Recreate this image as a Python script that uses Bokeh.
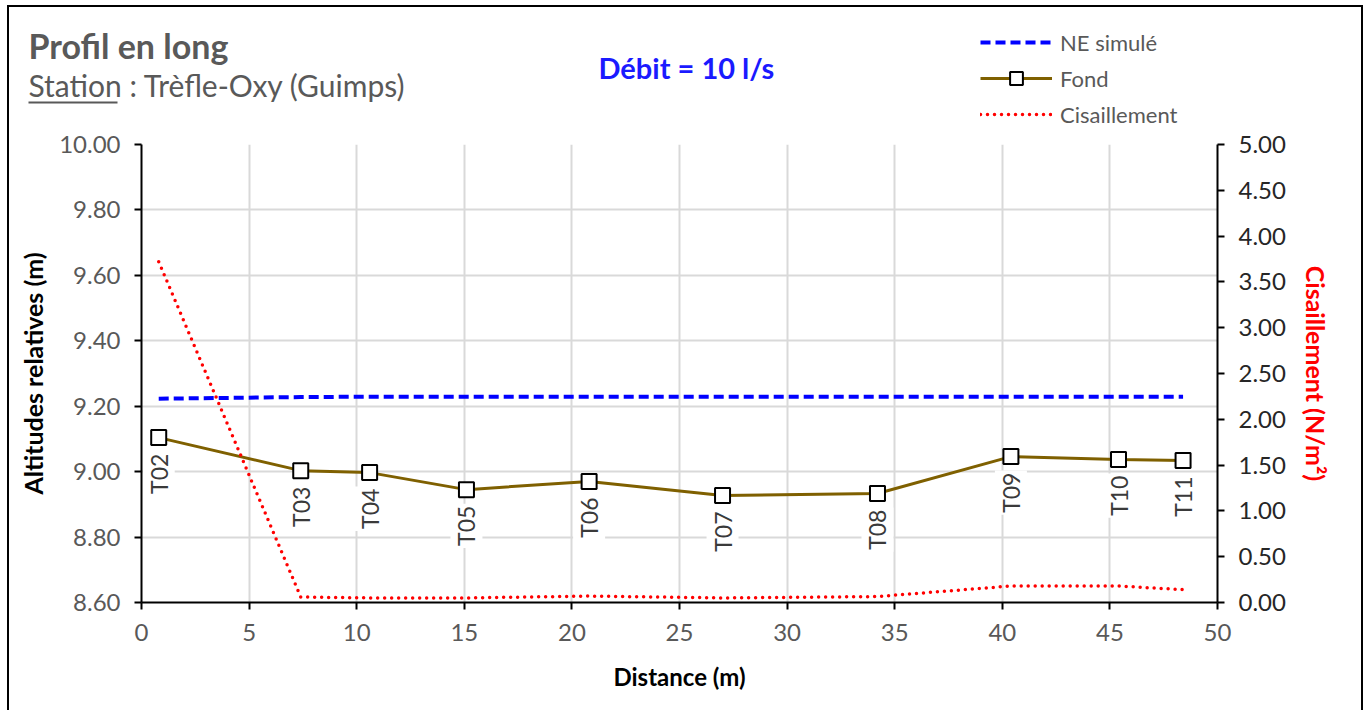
import math
from bokeh.plotting import figure
from bokeh.layouts import column
from bokeh.models import (Range1d, LinearAxis, SingleIntervalTicker, NumeralTickFormatter,
                          Label, Legend, LegendItem, ColumnDataSource)
from bokeh.core.properties import value
from bokeh.embed import file_html
from bokeh.resources import INLINE

# ---- data ----
stations = ["T02", "T03", "T04", "T05", "T06", "T07", "T08", "T09", "T10", "T11"]
distance = [0.8, 7.4, 10.6, 15.1, 20.8, 27.0, 34.2, 40.4, 45.4, 48.4]
fond = [9.104, 9.003, 8.997, 8.945, 8.970, 8.927, 8.933, 9.046, 9.037, 9.034]
ne_simule = [9.223, 9.228, 9.229, 9.229, 9.229, 9.229, 9.229, 9.229, 9.229, 9.229]
cisaillement = [3.72, 0.06, 0.05, 0.05, 0.07, 0.05, 0.065, 0.18, 0.18, 0.14]
x_ticks_interval = 5
y_ticks_interval = 0.2
y2_ticks_interval = 0.5

FONT = "Lato"
GRAY = "#595959"

# overall geometry (screen pixels of the page)
OX, OY = 9, 7            # inside of the outer border
IW = 1352                # inner width
HEAD_BOTTOM = 129
HEAD_H = HEAD_BOTTOM - OY
MAIN_H = 710 - HEAD_BOTTOM
FRAME_L, FRAME_R, FRAME_T, FRAME_B = 141, 1217, 144, 602
BASE_FIX = 12            # label baseline correction

# ---------------- header (titles + legend) ----------------
head = figure(width=IW, height=HEAD_H, output_backend="svg", toolbar_location=None,
              x_range=Range1d(OX, OX + IW), y_range=Range1d(HEAD_BOTTOM, OY),
              min_border=0, x_axis_location=None, y_axis_location=None, frame_align=False)
head.grid.visible = False
head.outline_line_color = None
head.background_fill_color = "white"
head.border_fill_color = "white"

head.add_layout(Label(x=28, y=57 - BASE_FIX, text="Profil en long", text_font=FONT,
                      text_font_style="bold", text_font_size="34px",
                      text_color=GRAY, text_baseline="alphabetic"))
head.add_layout(Label(x=28, y=96 - BASE_FIX, text="Station : Trèfle-Oxy (Guimps)", text_font=FONT,
                      text_font_size="30px", text_color=GRAY, text_baseline="alphabetic"))
head.segment(x0=[28], y0=[102], x1=[117], y1=[102], line_color=GRAY, line_width=2)
head.add_layout(Label(x=598, y=79 - BASE_FIX, text="Débit = 10 l/s", text_font=FONT,
                      text_font_style="bold", text_font_size="29px",
                      text_color="#1a1aff", text_baseline="alphabetic"))

# legend proxies (drawn outside the visible range, only their legend glyphs show)
px, py = [-1000, -999], [-1000, -1000]
h_ne = head.line(px, py, line_color="#0000ff", line_width=4, line_dash="10 5")
h_fl = head.line(px, py, line_color="#7f6000", line_width=3)
h_fp = head.scatter(px, py, marker="square", size=15, fill_color="white",
                    line_color="black", line_width=2)
h_sh = head.line(px, py, line_color="#ff0000", line_width=3.5, line_dash="0 7", line_cap="round")
legend = Legend(items=[
    LegendItem(label="NE simulé", renderers=[h_ne]),
    LegendItem(label="Fond", renderers=[h_fl, h_fp]),
    LegendItem(label="Cisaillement", renderers=[h_sh]),
], location=(980 - OX, -1), orientation="vertical", glyph_width=72,
   glyph_height=32, label_height=32, spacing=4, label_standoff=8, padding=0, margin=0,
   border_line_color=None, background_fill_alpha=0,
   label_text_font=FONT, label_text_font_size="22px", label_text_color=GRAY)
head.add_layout(legend, "center")

# ---------------- main chart ----------------
p = figure(width=IW, height=MAIN_H, output_backend="svg", toolbar_location=None,
           x_range=Range1d(0, 50), y_range=Range1d(8.6, 10.0),
           min_border_left=FRAME_L - OX, min_border_right=(OX + IW) - FRAME_R,
           min_border_top=FRAME_T - HEAD_BOTTOM, min_border_bottom=710 - FRAME_B,
           x_axis_location=None, y_axis_location=None, frame_align=False)
p.outline_line_color = None
p.background_fill_color = "white"
p.border_fill_color = "white"
p.extra_y_ranges = {"shear": Range1d(0, 5)}

def style_axis(ax, label_color="black"):
    ax.axis_line_color = "black"
    ax.axis_line_width = 2
    ax.major_tick_line_color = "black"
    ax.major_tick_line_width = 2
    ax.major_tick_out = 7
    ax.major_tick_in = 0
    ax.minor_tick_line_color = None
    ax.major_label_text_font = FONT
    ax.major_label_text_font_size = "24px"
    ax.major_label_text_color = GRAY
    ax.axis_label_text_font = FONT
    ax.axis_label_text_font_style = "bold"
    ax.axis_label_text_font_size = "24px"
    ax.axis_label_text_color = label_color

xaxis = LinearAxis(ticker=SingleIntervalTicker(interval=x_ticks_interval), axis_label="Distance (m)")
style_axis(xaxis)
xaxis.major_label_standoff = 14
xaxis.axis_label_standoff = 18
p.add_layout(xaxis, "below")

yaxis = LinearAxis(ticker=SingleIntervalTicker(interval=y_ticks_interval),
                   formatter=NumeralTickFormatter(format="0.00"),
                   axis_label="Altitudes relatives (m)")
style_axis(yaxis)
yaxis.axis_label_text_font_size = "25px"
yaxis.major_label_standoff = 14
yaxis.axis_label_standoff = 8
p.add_layout(yaxis, "left")

y2axis = LinearAxis(y_range_name="shear", ticker=SingleIntervalTicker(interval=y2_ticks_interval),
                    formatter=NumeralTickFormatter(format="0.00"),
                    axis_label="Cisaillement (N/m²)")
style_axis(y2axis, label_color="#ff0000")
y2axis.axis_label_text_font_size = "25px"
y2axis.major_label_standoff = 14
y2axis.axis_label_standoff = 12
y2axis.major_label_text_color = "#262626"
p.add_layout(y2axis, "right")

p.xgrid.ticker = xaxis.ticker
p.ygrid.ticker = yaxis.ticker
for g in (p.xgrid, p.ygrid):
    g.grid_line_color = "#d9d9d9"
    g.grid_line_width = 2

src = ColumnDataSource(dict(x=distance, fond=fond, ne=ne_simule, shear=cisaillement, name=stations))

p.line("x", "ne", source=src, line_color="#0000ff", line_width=4, line_dash="10 5")
p.line("x", "fond", source=src, line_color="#7f6000", line_width=3)
p.scatter("x", "fond", source=src, marker="square", size=15,
          fill_color="white", line_color="black", line_width=2)
p.line("x", "shear", source=src, y_range_name="shear", line_color="#ff0000",
       line_width=3.5, line_dash="0 7", line_cap="round")

p.text("x", "fond", text="name", source=src, angle=math.pi / 2, text_align="right",
       text_baseline="middle", y_offset=14, text_font=value(FONT), text_font_size="23px",
       text_color="#3a3a3a", background_fill_color="white", padding=2)

layout = column(head, p, spacing=0,
                styles={"border-top": "2px solid black", "border-left": "2px solid black",
                        "border-right": "2px solid black",
                        "margin-left": "7px", "margin-top": "5px"})

open("out.html", "w").write(file_html(layout, INLINE))
